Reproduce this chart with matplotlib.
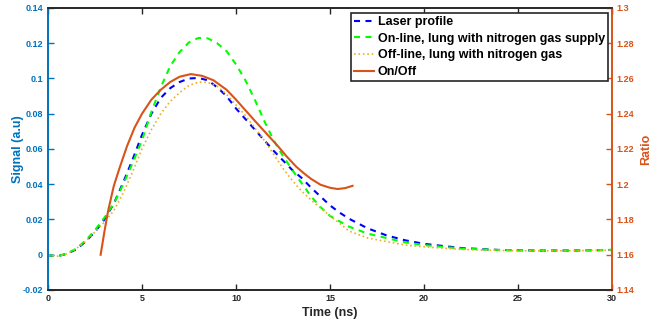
import numpy as np
import matplotlib
matplotlib.use('Agg')
from matplotlib import pyplot as plt

plt.rcParams['font.family'] = ['Liberation Sans', 'DejaVu Sans']
plt.rcParams['font.weight'] = 'bold'

# time grid (ns) for the three signal traces
t = [0, 0.5, 1, 1.5, 2, 2.5, 3, 3.5, 4, 4.5, 5, 5.5, 6, 6.5, 7, 7.5, 8, 8.5, 9, 9.5,
     10, 10.5, 11, 11.5, 12, 12.5, 13, 13.5, 14, 14.5, 15, 15.5, 16, 17, 18, 19, 20,
     22, 24, 26, 28, 30]

laser = [-0.0003, -0.0008, 0.0005, 0.003, 0.0075, 0.013, 0.020, 0.029, 0.041, 0.054,
         0.068, 0.080, 0.089, 0.0945, 0.098, 0.100, 0.1003, 0.099, 0.095, 0.090,
         0.083, 0.077, 0.071, 0.065, 0.059, 0.0535, 0.048, 0.0435, 0.038, 0.033,
         0.028, 0.024, 0.0205, 0.015, 0.011, 0.0082, 0.0062,
         0.0038, 0.0027, 0.0024, 0.0024, 0.0027]

online = [-0.0003, -0.0008, 0.0005, 0.0035, 0.008, 0.014, 0.021, 0.029, 0.040, 0.052,
          0.065, 0.081, 0.095, 0.107, 0.115, 0.1205, 0.123, 0.1228, 0.120, 0.1155,
          0.108, 0.099, 0.088, 0.076, 0.065, 0.056, 0.048, 0.0405, 0.033, 0.027,
          0.022, 0.019, 0.016, 0.012, 0.0095, 0.007, 0.0055,
          0.0035, 0.0027, 0.0024, 0.0024, 0.0028]

offline = [-0.0003, -0.0008, 0.0005, 0.0035, 0.0075, 0.013, 0.0185, 0.025, 0.035, 0.047,
           0.060, 0.071, 0.080, 0.087, 0.092, 0.096, 0.098, 0.0978, 0.0955, 0.091,
           0.085, 0.079, 0.072, 0.065, 0.057, 0.049, 0.042, 0.036, 0.031, 0.0265,
           0.022, 0.018, 0.0135, 0.0095, 0.0075, 0.0055, 0.0045,
           0.003, 0.0024, 0.0022, 0.0023, 0.0026]

# on/off ratio (right axis)
t_ratio = [2.8, 3.0, 3.2, 3.5, 3.8, 4.2, 4.6, 5.0, 5.5, 6.0, 6.5, 7.0, 7.6, 8.2, 8.8,
           9.5, 10.0, 10.5, 11.0, 11.6, 12.2, 12.7, 13.2, 13.6, 14.0, 14.5, 15.0,
           15.4, 15.8, 16.2]
ratio = [1.160, 1.173, 1.185, 1.199, 1.209, 1.2215, 1.232, 1.240, 1.248, 1.2536,
         1.258, 1.261, 1.2625, 1.2615, 1.259, 1.2536, 1.248, 1.242, 1.236, 1.229,
         1.222, 1.2157, 1.210, 1.2063, 1.203, 1.1997, 1.198, 1.1973, 1.1978, 1.1991]

blue_ax = '#0072BD'
orange_ax = '#D95319'
gray = '#262626'

fig = plt.figure(figsize=(6.6, 3.25), dpi=100)
ax = fig.add_axes([0.0727, 0.1077, 0.8546, 0.8677])
ax2 = ax.twinx()

l1, = ax.plot(t, laser, color='#0000FF', lw=1.5, linestyle=(0, (2.9, 2.6)), label='Laser profile')
l2, = ax.plot(t, online, color='#00FF00', lw=1.5, linestyle=(0, (2.9, 2.6)),
              label='On-line, lung with nitrogen gas supply')
l3, = ax.plot(t, offline, color='#EDB120', lw=1.2, linestyle=':',
              label='Off-line, lung with nitrogen gas')
l4, = ax2.plot(t_ratio, ratio, color=orange_ax, lw=1.5, label='On/Off')

ax.set_xlim(0, 30)
ax.set_ylim(-0.02, 0.14)
ax2.set_ylim(1.14, 1.3)
ax.set_xticks(np.arange(0, 31, 5))
ax.set_yticks(np.arange(-0.02, 0.141, 0.02))
ax.set_yticklabels(['-0.02', '0', '0.02', '0.04', '0.06', '0.08', '0.1', '0.12', '0.14'])
ax2.set_yticks(np.arange(1.14, 1.301, 0.02))
ax2.set_yticklabels(['1.14', '1.16', '1.18', '1.2', '1.22', '1.24', '1.26', '1.28', '1.3'])

ax.tick_params(axis='x', direction='in', top=True, length=4, width=1, colors=gray,
               labelsize=6.5, pad=3)
ax.tick_params(axis='y', direction='in', length=4, width=1, colors=blue_ax, labelsize=6.5)
ax2.tick_params(axis='y', direction='in', length=4, width=1, colors=orange_ax, labelsize=6.5)

for a in (ax, ax2):
    a.spines['top'].set_color(gray)
    a.spines['bottom'].set_color(gray)
    for s in a.spines.values():
        s.set_linewidth(1.2)
ax.spines['left'].set_color(blue_ax)
ax2.spines['left'].set_color(blue_ax)
ax.spines['right'].set_color(orange_ax)
ax2.spines['right'].set_color(orange_ax)

ax.set_xlabel('Time (ns)', fontsize=9, fontweight='bold', color=gray, labelpad=3)
ax.set_ylabel('Signal (a.u)', fontsize=9, fontweight='bold', color=blue_ax, labelpad=-1)
ax2.set_ylabel('Ratio', fontsize=9, fontweight='bold', color=orange_ax, labelpad=4)

leg = ax2.legend(handles=[l1, l2, l3, l4], loc='upper right', bbox_to_anchor=(0.993, 0.983),
                 fontsize=9, frameon=True, fancybox=False, framealpha=1, edgecolor=gray,
                 handlelength=1.6, handletextpad=0.3, labelspacing=0.38, borderpad=0.25,
                 borderaxespad=0)
leg.get_frame().set_linewidth(1.2)
for txt in leg.get_texts():
    txt.set_fontweight('bold')

fig.savefig('out.png', dpi=100)
